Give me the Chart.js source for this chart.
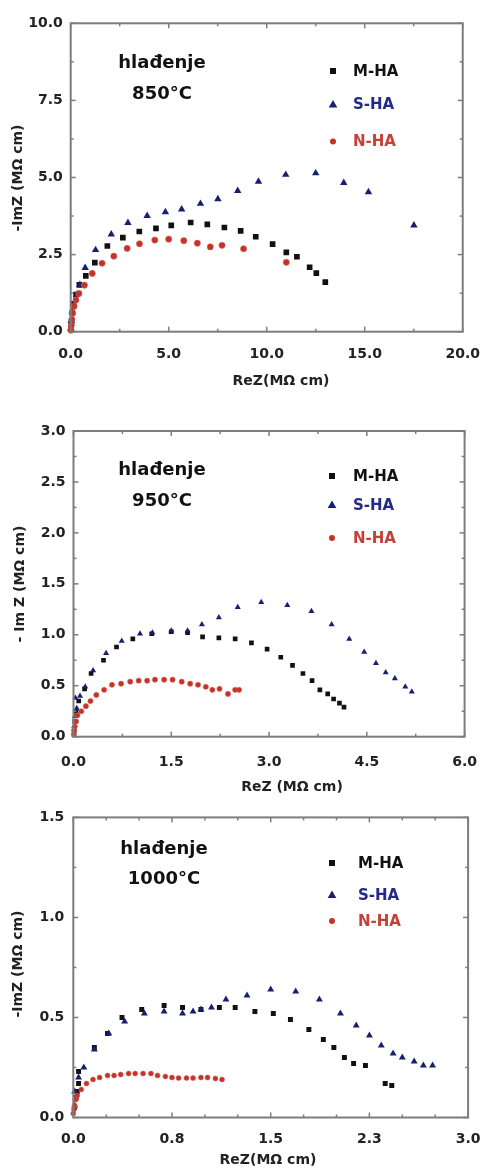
<!DOCTYPE html>
<html><head><meta charset="utf-8">
<script src="https://cdn.jsdelivr.net/npm/chart.js@4.4.1/dist/chart.umd.min.js"></script>
<style>
html,body{margin:0;padding:0;background:#fff;}
#wrap{position:relative;width:494px;height:1169px;overflow:hidden;background:#fff;}
canvas{position:absolute;left:0;}
</style></head><body>
<div id="wrap">
<canvas id="c1" width="494" height="400" style="top:0px"></canvas>
<canvas id="c2" width="494" height="400" style="top:400px"></canvas>
<canvas id="c3" width="494" height="369" style="top:800px"></canvas>
</div>
<script>
// ---------- data ----------
const categories = ['M-HA', 'S-HA', 'N-HA'];
const panelTitles = [['hlađenje', '850°C'], ['hlađenje', '950°C'], ['hlađenje', '1000°C']];
const xTitles = ['ReZ(MΩ cm)', 'ReZ (MΩ cm)', 'ReZ(MΩ cm)'];
const yTitles = ['-ImZ (MΩ cm)', '- Im Z (MΩ cm)', '-ImZ (MΩ cm)'];

const xTicks850 = ['0.0', '5.0', '10.0', '15.0', '20.0'];
const yTicks850 = ['0.0', '2.5', '5.0', '7.5', '10.0'];
const xTicks950 = ['0.0', '1.5', '3.0', '4.5', '6.0'];
const yTicks950 = ['0.0', '0.5', '1.0', '1.5', '2.0', '2.5', '3.0'];
const xTicks1000 = ['0.0', '0.8', '1.5', '2.3', '3.0'];
const yTicks1000 = ['0.0', '0.5', '1.0', '1.5'];

// 850 °C  [ReZ, -ImZ]
const m850 = [[0.02,0.1],[0.04,0.3],[0.08,0.6],[0.15,0.9],[0.27,1.2],[0.44,1.52],[0.77,1.81],[1.23,2.24],[1.87,2.78],[2.66,3.05],[3.5,3.25],[4.35,3.35],[5.13,3.45],[6.12,3.54],[6.97,3.48],[7.84,3.38],[8.67,3.27],[9.44,3.08],[10.3,2.84],[11.0,2.57],[11.54,2.43],[12.19,2.09],[12.53,1.9],[12.99,1.61]];
const s850 = [[0.01,0.1],[0.03,0.35],[0.07,0.65],[0.15,0.9],[0.3,1.2],[0.47,1.52],[0.74,2.07],[1.27,2.65],[2.07,3.16],[2.92,3.53],[3.9,3.76],[4.83,3.88],[5.66,3.97],[6.62,4.15],[7.51,4.3],[8.52,4.57],[9.58,4.87],[10.97,5.09],[12.5,5.14],[13.93,4.83],[15.19,4.53],[17.51,3.45]];
const n850 = [[0.01,0.05],[0.03,0.2],[0.06,0.4],[0.1,0.6],[0.17,0.82],[0.27,1.03],[0.42,1.24],[0.7,1.51],[1.1,1.89],[1.6,2.22],[2.2,2.45],[2.88,2.7],[3.51,2.85],[4.29,2.97],[5.0,3.0],[5.77,2.95],[6.46,2.87],[7.12,2.75],[7.72,2.8],[8.82,2.69],[11.0,2.25]];

// 950 °C
const m950 = [[0.01,0.05],[0.02,0.15],[0.04,0.25],[0.08,0.35],[0.17,0.47],[0.27,0.62],[0.46,0.75],[0.66,0.88],[0.91,0.96],[1.2,1.01],[1.5,1.03],[1.75,1.02],[1.98,0.98],[2.23,0.97],[2.48,0.96],[2.73,0.92],[2.97,0.86],[3.18,0.78],[3.36,0.7],[3.52,0.62],[3.66,0.55],[3.78,0.46],[3.9,0.42],[3.99,0.37],[4.08,0.33],[4.15,0.29]];
const s950 = [[0.01,0.1],[0.02,0.2],[0.05,0.28],[0.03,0.38],[0.1,0.4],[0.18,0.49],[0.3,0.65],[0.5,0.82],[0.74,0.94],[1.02,1.01],[1.21,1.02],[1.5,1.04],[1.75,1.04],[1.97,1.1],[2.23,1.17],[2.52,1.27],[2.88,1.32],[3.28,1.29],[3.65,1.23],[3.96,1.1],[4.23,0.96],[4.46,0.83],[4.64,0.72],[4.79,0.63],[4.93,0.57],[5.09,0.49],[5.19,0.44]];
const n950 = [[0.005,0.02],[0.01,0.06],[0.02,0.1],[0.04,0.15],[0.06,0.21],[0.12,0.25],[0.19,0.3],[0.26,0.35],[0.35,0.41],[0.47,0.46],[0.59,0.51],[0.73,0.52],[0.87,0.54],[1.0,0.55],[1.13,0.55],[1.25,0.56],[1.39,0.56],[1.52,0.56],[1.66,0.54],[1.79,0.52],[1.91,0.51],[2.03,0.49],[2.13,0.46],[2.24,0.47],[2.37,0.42],[2.48,0.46],[2.54,0.46]];

// 1000 °C
const m1000 = [[0.01,0.05],[0.02,0.1],[0.03,0.13],[0.04,0.17],[0.04,0.23],[0.16,0.35],[0.26,0.42],[0.37,0.5],[0.52,0.54],[0.69,0.56],[0.83,0.55],[0.97,0.54],[1.11,0.55],[1.23,0.55],[1.38,0.53],[1.52,0.52],[1.65,0.49],[1.79,0.44],[1.9,0.39],[1.98,0.35],[2.06,0.3],[2.13,0.27],[2.22,0.26],[2.37,0.17],[2.42,0.16]];
const s1000 = [[0.01,0.06],[0.02,0.1],[0.01,0.13],[0.04,0.2],[0.08,0.25],[0.16,0.34],[0.27,0.42],[0.39,0.48],[0.54,0.52],[0.69,0.53],[0.83,0.52],[0.91,0.53],[0.97,0.54],[1.05,0.55],[1.16,0.59],[1.32,0.61],[1.5,0.64],[1.69,0.63],[1.87,0.59],[2.03,0.52],[2.15,0.46],[2.25,0.41],[2.34,0.36],[2.43,0.32],[2.5,0.3],[2.59,0.28],[2.66,0.26],[2.73,0.26]];
const n1000 = [[0.0,0.02],[0.005,0.04],[0.01,0.06],[0.02,0.09],[0.03,0.11],[0.06,0.14],[0.1,0.17],[0.15,0.19],[0.2,0.2],[0.26,0.21],[0.31,0.21],[0.36,0.215],[0.42,0.22],[0.47,0.22],[0.53,0.22],[0.59,0.22],[0.64,0.21],[0.7,0.205],[0.75,0.2],[0.8,0.197],[0.86,0.197],[0.91,0.197],[0.97,0.2],[1.02,0.2],[1.08,0.195],[1.13,0.19]];

// ---------- styling ----------
const pointStyles = ['rect', 'triangle', 'circle'];
const fills = ['#111111', 'rgb(22,32,115)', 'rgb(196,50,40)'];
const borders = ['#111111', 'rgb(22,32,115)', 'rgba(215,95,85,0.55)'];
const borderW = [0, 0, 1];
const orders = [3, 2, 1];
const legendColors = ['#111111', 'rgb(35,42,135)', 'rgb(198,62,52)'];
const FAM = '"DejaVu Sans", sans-serif';
const tickFont = { family: FAM, weight: 'bold', size: 14 };

function drawMarker(ctx, i, x, y) {
  ctx.fillStyle = fills[i];
  ctx.beginPath();
  if (i === 0) { ctx.rect(x - 3, y - 3, 6, 6); }
  else if (i === 1) { ctx.moveTo(x, y - 4.5); ctx.lineTo(x + 4.3, y + 3); ctx.lineTo(x - 4.3, y + 3); ctx.closePath(); }
  else { ctx.arc(x, y, 3, 0, Math.PI * 2); }
  ctx.fill();
}

const framePlugin = {
  id: 'frame',
  afterDatasetsDraw(chart, args, o) {
    const ctx = chart.ctx, a = chart.chartArea, xs = chart.scales.x, ys = chart.scales.y;
    ctx.save();
    ctx.strokeStyle = '#7d7d7d';
    ctx.lineWidth = 2;
    ctx.strokeRect(a.left, a.top, a.right - a.left, a.bottom - a.top);
    ctx.lineWidth = 1.5;
    const isMajor = (v, step) => Math.abs(v / step - Math.round(v / step)) < 1e-6;
    const seg = (x1, y1, x2, y2) => { ctx.beginPath(); ctx.moveTo(x1, y1); ctx.lineTo(x2, y2); ctx.stroke(); };
    const nx = Math.round((xs.max - xs.min) / o.xMinor);
    for (let k = 0; k <= nx; k++) {
      const v = xs.min + k * o.xMinor;
      const px = xs.getPixelForValue(v);
      const len = isMajor(v, o.xMajor) ? 5 : 3;
      seg(px, a.bottom, px, a.bottom - len);
      seg(px, a.top, px, a.top + len);
    }
    const ny = Math.round((ys.max - ys.min) / o.yMinor);
    for (let k = 0; k <= ny; k++) {
      const v = ys.min + k * o.yMinor;
      const py = ys.getPixelForValue(v);
      const len = isMajor(v, o.yMajor) ? 5 : 3;
      seg(a.left, py, a.left + len, py);
      seg(a.right, py, a.right - len, py);
    }
    ctx.restore();
  },
  afterDraw(chart, args, o) {
    const ctx = chart.ctx;
    ctx.save();
    // annotation title
    ctx.fillStyle = '#111';
    ctx.font = 'bold 18px ' + FAM;
    ctx.textAlign = 'center';
    ctx.textBaseline = 'alphabetic';
    ctx.fillText(o.title[0], o.tx, o.ty1);
    ctx.fillText(o.title[1], o.tx, o.ty2);
    // legend
    ctx.font = 'bold 15px ' + FAM;
    ctx.textAlign = 'left';
    ctx.textBaseline = 'middle';
    o.legendY.forEach((y, i) => {
      drawMarker(ctx, i, o.lmx, y);
      ctx.fillStyle = legendColors[i];
      ctx.fillText(categories[i], o.ltx, y + 1);
    });
    // axis titles
    ctx.font = 'bold 14px ' + FAM;
    ctx.fillStyle = '#222';
    ctx.textAlign = 'center';
    ctx.textBaseline = 'middle';
    ctx.fillText(o.xTitle, o.xtx, o.xty);
    ctx.translate(o.ytx, o.yty);
    ctx.rotate(-Math.PI / 2);
    ctx.fillText(o.yTitle, 0, 0);
    ctx.restore();
  }
};

function panel(id, g) {
  const datasets = g.series.map((s, i) => ({
    label: categories[i],
    data: s.map(p => ({ x: p[0], y: p[1] })),
    pointStyle: pointStyles[i],
    pointRadius: g.radius[i],
    backgroundColor: fills[i],
    borderColor: borders[i],
    borderWidth: borderW[i],
    order: orders[i],
    clip: 8
  }));
  new Chart(document.getElementById(id), {
    type: 'scatter',
    data: { datasets },
    options: {
      responsive: false, animation: false, events: [], devicePixelRatio: 1,
      layout: { padding: { left: 0, top: g.top, right: 494 - g.right, bottom: 0 } },
      scales: {
        x: {
          type: 'linear', min: 0, max: g.xMax,
          grid: { display: false, drawTicks: false }, border: { display: false },
          ticks: { stepSize: g.xStep, autoSkip: false, maxRotation: 0, padding: g.xPad, font: tickFont, color: '#222',
                   callback: (v, i) => g.xLabels[i] },
          afterFit: s => { s.height = g.h - g.bottom; }
        },
        y: {
          type: 'linear', min: 0, max: g.yMax,
          grid: { display: false, drawTicks: false }, border: { display: false },
          ticks: { stepSize: g.yStep, autoSkip: false, padding: g.yPad, font: tickFont, color: '#222',
                   callback: (v, i) => g.yLabels[i] },
          afterFit: s => { s.width = g.left; }
        }
      },
      plugins: {
        legend: { display: false }, tooltip: { enabled: false },
        frame: g.frame
      }
    },
    plugins: [framePlugin]
  });
}

panel('c1', {
  h: 400, top: 23.3, bottom: 331.7, left: 70.7, right: 476,
  xMax: 20, xStep: 5, yMax: 10, yStep: 2.5, xLabels: xTicks850, yLabels: yTicks850,
  xPad: 14, yPad: 8, radius: [4, 4.3, 3.1],
  series: [m850, s850, n850],
  frame: { xMajor: 5, xMinor: 2.5, yMajor: 2.5, yMinor: 1.25,
           title: panelTitles[0], tx: 162, ty1: 68, ty2: 99,
           legendY: [71, 104.5, 141.5], lmx: 333, ltx: 353,
           xTitle: xTitles[0], xtx: 281, xty: 381, yTitle: yTitles[0], ytx: 18, yty: 178 }
});
panel('c2', {
  h: 400, top: 31, bottom: 336.7, left: 73.5, right: 476,
  xMax: 6, xStep: 1.5, yMax: 3, yStep: 0.5, xLabels: xTicks950, yLabels: yTicks950,
  xPad: 17, yPad: 8, radius: [3.3, 3.5, 2.6],
  series: [m950, s950, n950],
  frame: { xMajor: 1.5, xMinor: 0.75, yMajor: 0.5, yMinor: 0.25,
           title: panelTitles[1], tx: 162, ty1: 75, ty2: 106,
           legendY: [76, 105, 138], lmx: 332, ltx: 353,
           xTitle: xTitles[1], xtx: 292, xty: 387, yTitle: yTitles[1], ytx: 20, yty: 184 }
});
panel('c3', {
  h: 369, top: 11, bottom: 317.5, left: 73.3, right: 475,
  xMax: 3, xStep: 0.75, yMax: 1.5, yStep: 0.5, xLabels: xTicks1000, yLabels: yTicks1000,
  xPad: 13.5, yPad: 9, radius: [3.5, 4, 2.5],
  series: [m1000, s1000, n1000],
  frame: { xMajor: 0.75, xMinor: 0.25, yMajor: 0.5, yMinor: 0.25,
           title: panelTitles[2], tx: 164, ty1: 54, ty2: 84,
           legendY: [63, 95, 121], lmx: 332, ltx: 358,
           xTitle: xTitles[2], xtx: 268, xty: 360, yTitle: yTitles[2], ytx: 18, yty: 164 }
});
</script>
</body></html>
